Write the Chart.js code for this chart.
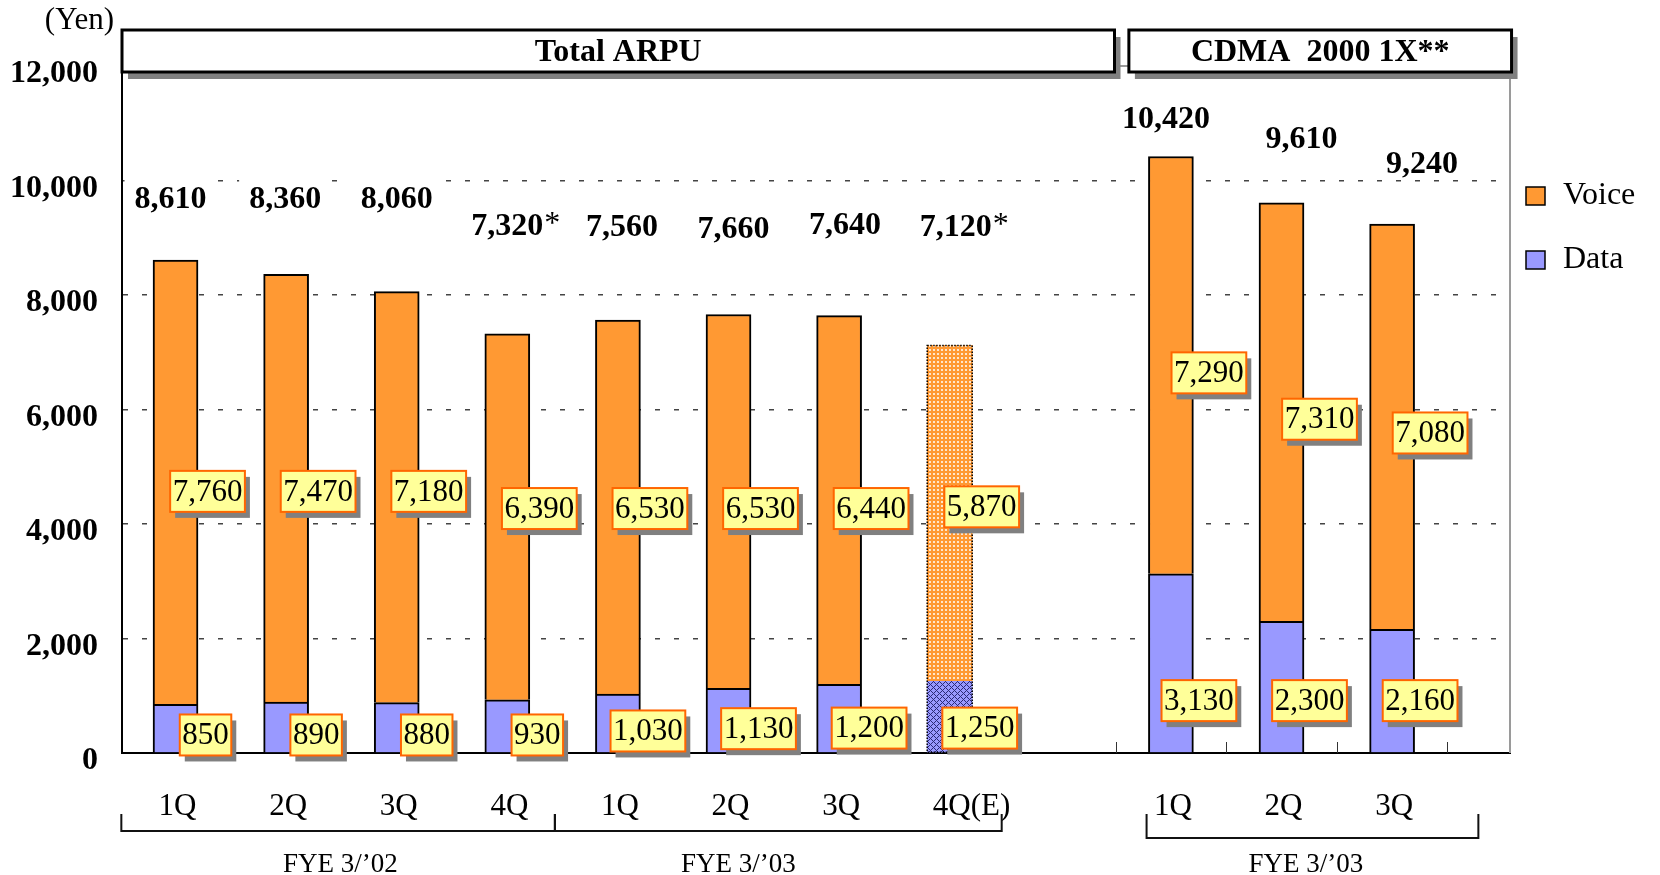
<!DOCTYPE html>
<html>
<head>
<meta charset="utf-8">
<title>ARPU</title>
<script src="https://cdn.jsdelivr.net/npm/chart.js@4.4.1/dist/chart.umd.min.js"></script>
<style>
  html, body { margin: 0; padding: 0; background: #fff; }
  #arpuChart { display: block; }
</style>
</head>
<body>
<canvas id="arpuChart" width="1660" height="875"></canvas>
<script>
// --- data -------------------------------------------------------------
// slot on the x axis for each bar (slot 8 is the gap between the groups)
const slots     = [0, 1, 2, 3, 4, 5, 6, 7, 9, 10, 11];
const quarters  = ['1Q', '2Q', '3Q', '4Q', '1Q', '2Q', '3Q', '4Q(E)', '1Q', '2Q', '3Q'];
const voice     = [7760, 7470, 7180, 6390, 6530, 6530, 6440, 5870, 7290, 7310, 7080];
const dataArpu  = [850, 890, 880, 930, 1030, 1130, 1200, 1250, 3130, 2300, 2160];
const totalNote = ['', '', '', '*', '', '', '', '*', '', '', ''];
const estimated = [false, false, false, false, false, false, false, true, false, false, false];
const headers   = ['Total ARPU', 'CDMA  2000 1X**'];
const fyeLabels = ['FYE 3/\u201902', 'FYE 3/\u201903', 'FYE 3/\u201903'];
const seriesNames = ['Voice', 'Data'];

// --- layout (label anchors, in axis units) ----------------------------
const totalLabelAt = [9660, 9660, 9660, 9190, 9170, 9140, 9210, 9170, 11060, 10710, 10280];
const totalLabelDx = [-5, -1, 0, 0, 4, 5, 6, 6, -5, 20, 30];
const voiceLabelAt = [4570, 4570, 4570, 4270, 4270, 4270, 4270, 4300, 6640, 5830, 5590];
const dataLabelAt  = [315, 315, 315, 315, 385, 425, 435, 435, 915, 915, 915];
const headerSpans  = [[-0.484, 8.49], [8.62, 12.08]];
const brackets     = [[-0.49, 3.43, 78], [3.43, 7.47, 78], [8.78, 11.78, 85]];
const fyeAt        = [1.49, 5.09, 10.22];

const SERIF = '"Liberation Serif", "Times New Roman", serif';
const VOICE = '#FF9933';
const DATA  = '#9999FF';

function makePattern(draw, size) {
  const c = document.createElement('canvas');
  c.width = size; c.height = size;
  draw(c.getContext('2d'));
  return c.getContext('2d').createPattern(c, 'repeat');
}
const voiceDots = makePattern(g => {
  g.fillStyle = VOICE; g.fillRect(0, 0, 4, 4);
  g.fillStyle = '#FFE6CC'; g.fillRect(1, 1, 2, 2);
}, 4);
const dataHatch = makePattern(g => {
  g.fillStyle = DATA; g.fillRect(0, 0, 6, 6);
  g.fillStyle = '#2A2A78';
  for (let px = 0; px < 6; px++) {
    for (let py = 0; py < 6; py++) {
      if ((px + py) % 6 === 0 || (px - py + 6) % 6 === 0) g.fillRect(px, py, 1, 1);
    }
  }
}, 6);

function tag(ctx, text, cx, cy) {
  ctx.font = '31px ' + SERIF;
  const w = ctx.measureText(text).width + 5;
  const h = 41;
  const x = cx - w / 2, y = cy - h / 2;
  ctx.fillStyle = '#808080';
  ctx.fillRect(x + 5, y + 6, w, h);
  ctx.fillStyle = '#FFFF99';
  ctx.fillRect(x, y, w, h);
  ctx.strokeStyle = '#FF6600';
  ctx.lineWidth = 2;
  ctx.strokeRect(x, y, w, h);
  ctx.fillStyle = '#000';
  ctx.textAlign = 'center';
  ctx.textBaseline = 'middle';
  ctx.fillText(text, cx, cy + 1);
}

const decorations = {
  id: 'decorations',
  beforeDatasetsDraw(chart) {
    const { ctx, chartArea: a, scales: { x } } = chart;
    ctx.save();
    // plot frame (top + right)
    ctx.strokeStyle = '#9A9A9A';
    ctx.lineWidth = 2;
    ctx.beginPath();
    ctx.moveTo(a.left, a.top);
    ctx.lineTo(a.right, a.top);
    ctx.lineTo(a.right, a.bottom);
    ctx.stroke();
    // small category ticks
    ctx.strokeStyle = '#333';
    ctx.lineWidth = 1;
    for (let s = 0.5; s < 12; s += 1) {
      const px = Math.round(x.getPixelForValue(s)) + 0.5;
      const len = s > 8 ? 11 : 3;
      ctx.beginPath();
      ctx.moveTo(px, a.bottom);
      ctx.lineTo(px, a.bottom - len);
      ctx.stroke();
    }
    ctx.restore();
  },
  afterDatasetsDraw(chart) {
    const { ctx, chartArea: a, scales: { x, y } } = chart;
    const dataMeta = chart.getDatasetMeta(0);
    const voiceMeta = chart.getDatasetMeta(1);
    ctx.save();

    // dotted outline for the estimate
    estimated.forEach((e, i) => {
      if (!e) return;
      const top = voiceMeta.data[i];
      const bot = dataMeta.data[i];
      ctx.setLineDash([1.5, 1.5]);
      ctx.strokeStyle = '#000';
      ctx.lineWidth = 1.5;
      ctx.strokeRect(top.x - top.width / 2, top.y, top.width, bot.base - top.y);
      ctx.setLineDash([]);
    });

    // header boxes
    headerSpans.forEach((sp, k) => {
      const x0 = x.getPixelForValue(sp[0]);
      const x1 = x.getPixelForValue(sp[1]);
      const y0 = a.top - 36, h = 42;
      ctx.fillStyle = '#808080';
      ctx.fillRect(x0 + 6, y0 + 7, x1 - x0, h);
      ctx.fillStyle = '#fff';
      ctx.fillRect(x0, y0, x1 - x0, h);
      ctx.strokeStyle = '#000';
      ctx.lineWidth = 3;
      ctx.strokeRect(x0, y0, x1 - x0, h);
      ctx.fillStyle = '#000';
      ctx.font = 'bold 32px ' + SERIF;
      ctx.textAlign = 'center';
      ctx.textBaseline = 'middle';
      ctx.fillText(headers[k], (x0 + x1) / 2, y0 + h / 2 + 2);
    });

    // (Yen)
    ctx.font = '31px ' + SERIF;
    ctx.textAlign = 'right';
    ctx.textBaseline = 'middle';
    ctx.fillStyle = '#000';
    ctx.fillText('(Yen)', a.left - 8, 21);

    slots.forEach((s, i) => {
      const cx = x.getPixelForValue(s);
      // total on top
      const total = voice[i] + dataArpu[i];
      const txt = total.toLocaleString('en-US');
      const tx = cx + totalLabelDx[i];
      const ty = y.getPixelForValue(totalLabelAt[i]);
      ctx.font = 'bold 32px ' + SERIF;
      const tw = ctx.measureText(txt).width;
      if (i < 8) {
        ctx.fillStyle = '#fff';
        ctx.fillRect(tx - tw / 2 - 10, ty - 22, tw + 20 + (totalNote[i] ? 16 : 0), 42);
      }
      ctx.fillStyle = '#000';
      ctx.textAlign = 'center';
      ctx.textBaseline = 'middle';
      ctx.fillText(txt, tx, ty);
      if (totalNote[i]) {
        ctx.font = '32px ' + SERIF;
        ctx.textAlign = 'left';
        ctx.fillText(totalNote[i], tx + tw / 2 + 1, ty - 2);
      }
      // value tags
      tag(ctx, voice[i].toLocaleString('en-US'), cx + (i < 8 ? 32 : 38), y.getPixelForValue(voiceLabelAt[i]));
      tag(ctx, dataArpu[i].toLocaleString('en-US'), cx + (i < 8 ? 30 : 28), y.getPixelForValue(dataLabelAt[i]));

      // quarter labels
      ctx.font = '31px ' + SERIF;
      ctx.fillStyle = '#000';
      ctx.textBaseline = 'middle';
      const q = quarters[i];
      if (q.length > 2) {
        const base = q.slice(0, 2);
        ctx.textAlign = 'left';
        ctx.fillText(q, cx + 2 - ctx.measureText(base).width / 2, a.bottom + 54);
      } else {
        ctx.textAlign = 'center';
        ctx.fillText(q, cx + 2, a.bottom + 54);
      }
    });

    // fiscal-year brackets
    ctx.strokeStyle = '#111';
    ctx.lineWidth = 2;
    brackets.forEach(b => {
      const x0 = x.getPixelForValue(b[0]);
      const x1 = x.getPixelForValue(b[1]);
      const yb = a.bottom + b[2];
      ctx.beginPath();
      ctx.moveTo(x0, a.bottom + 61);
      ctx.lineTo(x0, yb);
      ctx.lineTo(x1, yb);
      ctx.lineTo(x1, a.bottom + 61);
      ctx.stroke();
    });
    ctx.font = '27px ' + SERIF;
    ctx.textAlign = 'center';
    ctx.textBaseline = 'middle';
    ctx.fillStyle = '#000';
    fyeAt.forEach((s, k) => {
      ctx.fillText(fyeLabels[k], x.getPixelForValue(s), a.bottom + 112);
    });

    // legend
    [VOICE, DATA].forEach((col, k) => {
      const ly = 196 + k * 64;
      ctx.fillStyle = col;
      ctx.fillRect(a.right + 16, ly - 9, 19, 18);
      ctx.strokeStyle = '#000';
      ctx.lineWidth = 1.5;
      ctx.strokeRect(a.right + 16, ly - 9, 19, 18);
      ctx.fillStyle = '#000';
      ctx.font = '32px ' + SERIF;
      ctx.textAlign = 'left';
      ctx.textBaseline = 'middle';
      ctx.fillText(seriesNames[k], a.right + 53, ly);
    });

    ctx.restore();
  }
};

new Chart(document.getElementById('arpuChart'), {
  type: 'bar',
  data: {
    datasets: [
      {
        label: 'Data',
        data: slots.map((s, i) => ({ x: s, y: dataArpu[i] })),
        backgroundColor: ctx => estimated[ctx.dataIndex] ? dataHatch : DATA,
        borderColor: '#000',
        borderWidth: ctx => estimated[ctx.dataIndex] ? 0 : 2,
        barThickness: 45
      },
      {
        label: 'Voice',
        data: slots.map((s, i) => ({ x: s, y: voice[i] })),
        backgroundColor: ctx => estimated[ctx.dataIndex] ? voiceDots : VOICE,
        borderColor: '#000',
        borderWidth: ctx => estimated[ctx.dataIndex] ? 0 : 2,
        barThickness: 45
      }
    ]
  },
  options: {
    responsive: false,
    animation: false,
    layout: { padding: { top: 66, right: 150, left: 0, bottom: 0 } },
    plugins: {
      legend: { display: false },
      tooltip: { enabled: false }
    },
    scales: {
      x: {
        type: 'linear',
        stacked: true,
        min: -0.484,
        max: 12.066,
        offset: false,
        ticks: { display: false },
        grid: { display: false, drawTicks: false },
        border: { display: true, color: '#000', width: 2 },
        afterFit: s => { s.height = 122; }
      },
      y: {
        stacked: true,
        min: 0,
        max: 12000,
        afterFit: s => { s.width = 122; },
        ticks: {
          stepSize: 2000,
          color: '#000',
          padding: 24,
          labelOffset: 8,
          font: { family: SERIF, size: 32, weight: 'bold' }
        },
        grid: {
          drawTicks: false,
          lineWidth: 1.5,
          color: ctx => (ctx.tick && (ctx.tick.value === 0 || ctx.tick.value === 12000)) ? 'rgba(0,0,0,0)' : '#444'
        },
        border: { display: true, color: '#000', width: 2, dash: [5, 14] }
      }
    }
  },
  plugins: [decorations]
});
</script>
</body>
</html>
